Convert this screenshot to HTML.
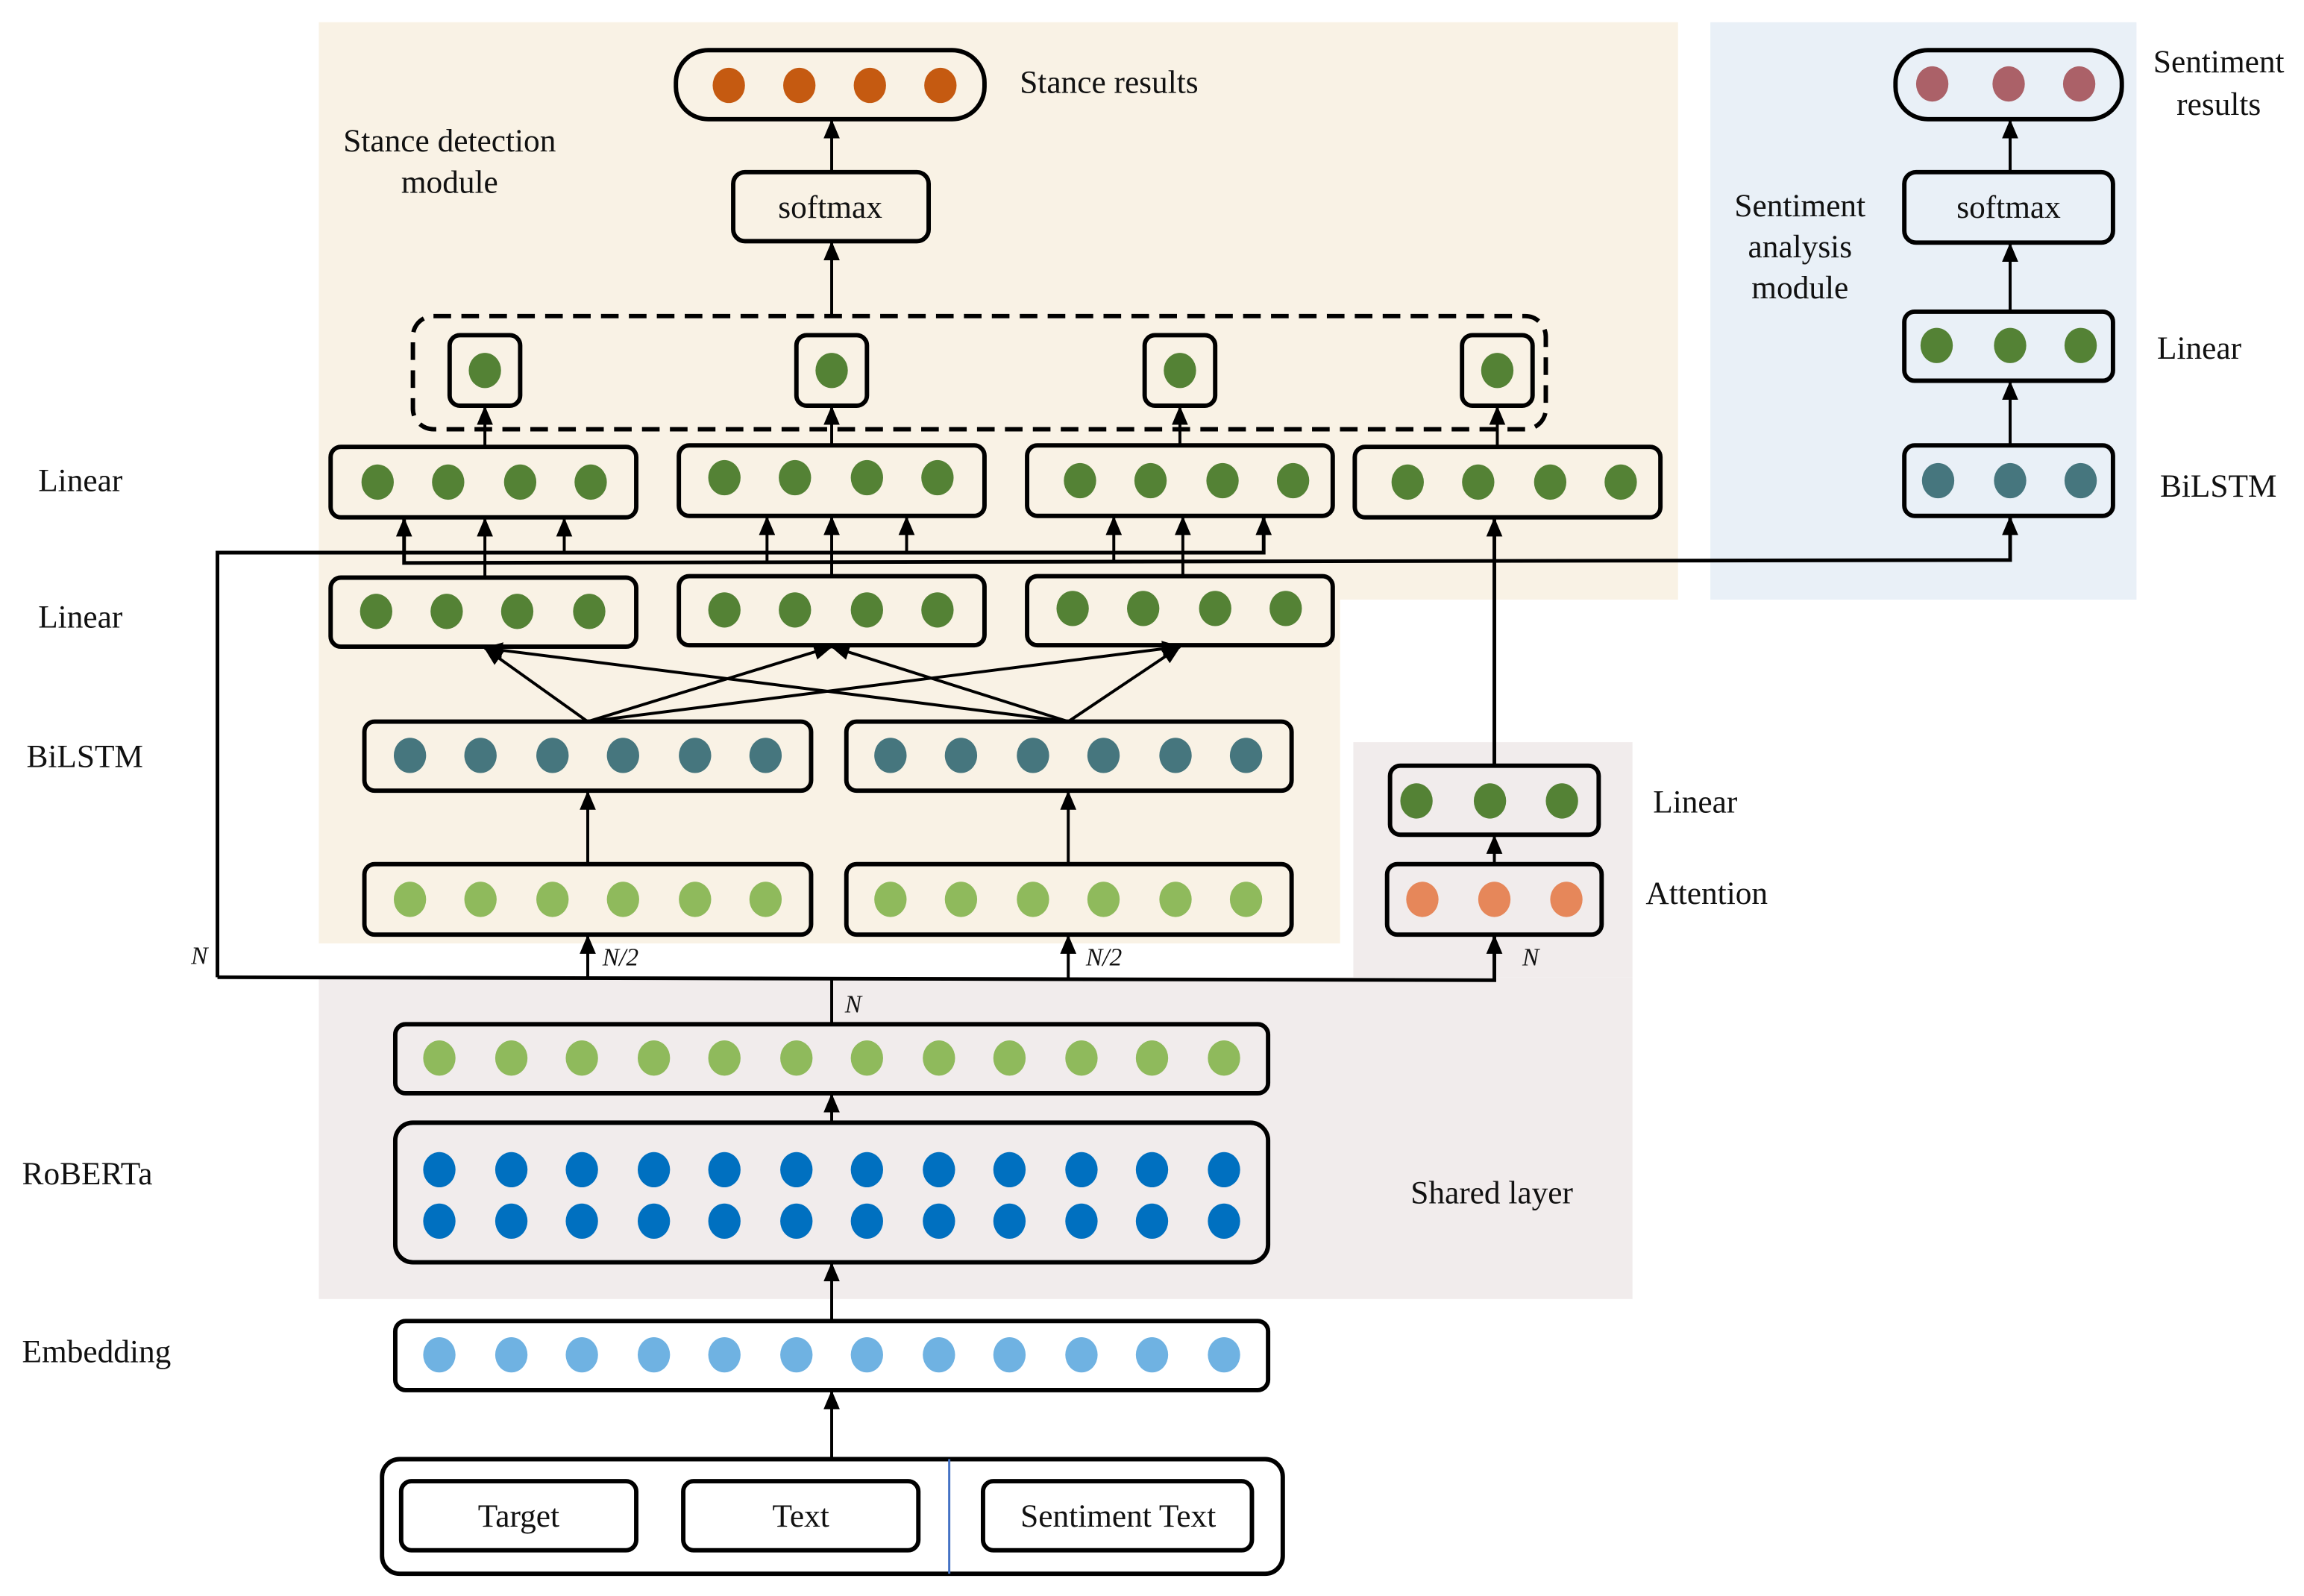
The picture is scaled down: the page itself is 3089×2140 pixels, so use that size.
<!DOCTYPE html>
<html><head><meta charset="utf-8"><style>
html,body{margin:0;padding:0;background:#fff;}
svg{display:block;}
text{font-family:"Liberation Serif",serif;font-size:22px;fill:#111;}
.i{font-style:italic;font-size:17px;}
</style></head><body>
<svg width="3089" height="2140" viewBox="0 0 1568 1086" xmlns="http://www.w3.org/2000/svg">
<defs>
<marker id="a" markerUnits="userSpaceOnUse" markerWidth="13" markerHeight="11" refX="12" refY="5.5" orient="auto-start-reverse" viewBox="0 0 13 11">
<path d="M0,0 L13,5.5 L0,11 Z" fill="#000"/></marker>
</defs>
<rect x="217" y="15" width="925" height="393" fill="#f9f2e5"/>
<rect x="217" y="408" width="695" height="234" fill="#f9f2e5"/>
<rect x="1164" y="15" width="290" height="393" fill="#e9f0f7"/>
<rect x="217" y="665" width="894" height="219" fill="#f1ecec"/>
<rect x="921" y="505" width="190" height="160" fill="#f1ecec"/>

<g fill="none" stroke="#000" stroke-width="3">
<rect x="460" y="34" width="210" height="47" rx="22"/>
<rect x="499" y="117" width="133" height="47" rx="8"/>
<rect x="281" y="215" width="771" height="77" rx="14" stroke-dasharray="12,7"/>
<rect x="306" y="228" width="48" height="48" rx="7"/>
<rect x="542" y="228" width="48" height="48" rx="7"/>
<rect x="779" y="228" width="48" height="48" rx="7"/>
<rect x="995" y="228" width="48" height="48" rx="7"/>
<rect x="225" y="304" width="208" height="48" rx="7"/>
<rect x="462" y="303" width="208" height="48" rx="7"/>
<rect x="699" y="303" width="208" height="48" rx="7"/>
<rect x="922" y="304" width="208" height="48" rx="7"/>
<rect x="225" y="393" width="208" height="47" rx="7"/>
<rect x="462" y="392" width="208" height="47" rx="7"/>
<rect x="699" y="392" width="208" height="47" rx="7"/>
<rect x="248" y="491" width="304" height="47" rx="7"/>
<rect x="576" y="491" width="303" height="47" rx="7"/>
<rect x="248" y="588" width="304" height="48" rx="7"/>
<rect x="576" y="588" width="303" height="48" rx="7"/>
<rect x="946" y="521" width="142" height="47" rx="7"/>
<rect x="944" y="588" width="146" height="48" rx="7"/>
<rect x="269" y="697" width="594" height="47" rx="7"/>
<rect x="269" y="764" width="594" height="95" rx="12"/>
<rect x="269" y="899" width="594" height="47" rx="7"/>
<rect x="260" y="993" width="613" height="78" rx="12"/>
<rect x="273" y="1008" width="160" height="47" rx="7"/>
<rect x="465" y="1008" width="160" height="47" rx="7"/>
<rect x="669" y="1008" width="183" height="47" rx="7"/>
<rect x="1290" y="34" width="154" height="47" rx="22"/>
<rect x="1296" y="117" width="142" height="48" rx="8"/>
<rect x="1296" y="212" width="142" height="47" rx="7"/>
<rect x="1296" y="303" width="142" height="48" rx="7"/>
</g>
<line x1="646" y1="993" x2="646" y2="1071" stroke="#4472c4" stroke-width="1.5"/>

<g fill="none" stroke="#000" stroke-width="2">
<line x1="566" y1="117" x2="566" y2="82" marker-end="url(#a)"/>
<line x1="566" y1="215" x2="566" y2="165" marker-end="url(#a)"/>
<line x1="330" y1="304" x2="330" y2="277" marker-end="url(#a)"/>
<line x1="566" y1="303" x2="566" y2="277" marker-end="url(#a)"/>
<line x1="803" y1="303" x2="803" y2="277" marker-end="url(#a)"/>
<line x1="1019" y1="304" x2="1019" y2="277" marker-end="url(#a)"/>
<line x1="330" y1="393" x2="330" y2="353" marker-end="url(#a)"/>
<line x1="566" y1="392" x2="566" y2="352" marker-end="url(#a)"/>
<line x1="805" y1="392" x2="805" y2="352" marker-end="url(#a)"/>
<polyline points="148,665 148,376 860,376 860,352" marker-end="url(#a)" stroke-width="2.5"/>
<line x1="384" y1="376" x2="384" y2="353" marker-end="url(#a)"/>
<line x1="617" y1="376" x2="617" y2="352" marker-end="url(#a)"/>
<polyline points="275,353 275,383 1368,381 1368,352" stroke-width="2.5" marker-end="url(#a)" marker-start="url(#a)"/>
<line x1="522" y1="383" x2="522" y2="352" marker-end="url(#a)"/>
<line x1="758" y1="383" x2="758" y2="352" marker-end="url(#a)"/>
<line x1="400" y1="491" x2="330" y2="441" marker-end="url(#a)"/>
<line x1="400" y1="491" x2="566" y2="440" marker-end="url(#a)"/>
<line x1="400" y1="491" x2="803" y2="440" marker-end="url(#a)"/>
<line x1="727" y1="491" x2="330" y2="441" marker-end="url(#a)"/>
<line x1="727" y1="491" x2="566" y2="440" marker-end="url(#a)"/>
<line x1="727" y1="491" x2="803" y2="440" marker-end="url(#a)"/>
<line x1="400" y1="588" x2="400" y2="539" marker-end="url(#a)"/>
<line x1="727" y1="588" x2="727" y2="539" marker-end="url(#a)"/>
<polyline points="148,665 1017,667 1017,637" stroke-width="2.5" marker-end="url(#a)"/>
<line x1="400" y1="665" x2="400" y2="637" marker-end="url(#a)"/>
<line x1="727" y1="666" x2="727" y2="637" marker-end="url(#a)"/>
<line x1="566" y1="697" x2="566" y2="666"/>
<line x1="1017" y1="588" x2="1017" y2="569" marker-end="url(#a)"/>
<line x1="1017" y1="521" x2="1017" y2="353" marker-end="url(#a)" stroke-width="2.5"/>
<line x1="566" y1="764" x2="566" y2="745" marker-end="url(#a)"/>
<line x1="566" y1="899" x2="566" y2="860" marker-end="url(#a)"/>
<line x1="566" y1="993" x2="566" y2="947" marker-end="url(#a)"/>
<line x1="1368" y1="303" x2="1368" y2="260" marker-end="url(#a)"/>
<line x1="1368" y1="212" x2="1368" y2="166" marker-end="url(#a)"/>
<line x1="1368" y1="117" x2="1368" y2="82" marker-end="url(#a)"/>
</g>

<g fill="#c55a11"><ellipse cx="496" cy="58" rx="11" ry="12"/><ellipse cx="544" cy="58" rx="11" ry="12"/><ellipse cx="592" cy="58" rx="11" ry="12"/><ellipse cx="640" cy="58" rx="11" ry="12"/></g>
<g fill="#ab6168"><ellipse cx="1315" cy="57" rx="11" ry="12"/><ellipse cx="1367" cy="57" rx="11" ry="12"/><ellipse cx="1415" cy="57" rx="11" ry="12"/></g>
<g fill="#548235">
<ellipse cx="330" cy="252" rx="11" ry="12"/><ellipse cx="566" cy="252" rx="11" ry="12"/><ellipse cx="803" cy="252" rx="11" ry="12"/><ellipse cx="1019" cy="252" rx="11" ry="12"/>
<ellipse cx="257" cy="328" rx="11" ry="12"/><ellipse cx="305" cy="328" rx="11" ry="12"/><ellipse cx="354" cy="328" rx="11" ry="12"/><ellipse cx="402" cy="328" rx="11" ry="12"/>
<ellipse cx="493" cy="325" rx="11" ry="12"/><ellipse cx="541" cy="325" rx="11" ry="12"/><ellipse cx="590" cy="325" rx="11" ry="12"/><ellipse cx="638" cy="325" rx="11" ry="12"/>
<ellipse cx="735" cy="327" rx="11" ry="12"/><ellipse cx="783" cy="327" rx="11" ry="12"/><ellipse cx="832" cy="327" rx="11" ry="12"/><ellipse cx="880" cy="327" rx="11" ry="12"/>
<ellipse cx="958" cy="328" rx="11" ry="12"/><ellipse cx="1006" cy="328" rx="11" ry="12"/><ellipse cx="1055" cy="328" rx="11" ry="12"/><ellipse cx="1103" cy="328" rx="11" ry="12"/>
<ellipse cx="256" cy="416" rx="11" ry="12"/><ellipse cx="304" cy="416" rx="11" ry="12"/><ellipse cx="352" cy="416" rx="11" ry="12"/><ellipse cx="401" cy="416" rx="11" ry="12"/>
<ellipse cx="493" cy="415" rx="11" ry="12"/><ellipse cx="541" cy="415" rx="11" ry="12"/><ellipse cx="590" cy="415" rx="11" ry="12"/><ellipse cx="638" cy="415" rx="11" ry="12"/>
<ellipse cx="730" cy="414" rx="11" ry="12"/><ellipse cx="778" cy="414" rx="11" ry="12"/><ellipse cx="827" cy="414" rx="11" ry="12"/><ellipse cx="875" cy="414" rx="11" ry="12"/>
<ellipse cx="964" cy="545" rx="11" ry="12"/><ellipse cx="1014" cy="545" rx="11" ry="12"/><ellipse cx="1063" cy="545" rx="11" ry="12"/>
<ellipse cx="1318" cy="235" rx="11" ry="12"/><ellipse cx="1368" cy="235" rx="11" ry="12"/><ellipse cx="1416" cy="235" rx="11" ry="12"/>
</g>
<g fill="#46767e">
<ellipse cx="279" cy="514" rx="11" ry="12"/><ellipse cx="327" cy="514" rx="11" ry="12"/><ellipse cx="376" cy="514" rx="11" ry="12"/><ellipse cx="424" cy="514" rx="11" ry="12"/><ellipse cx="473" cy="514" rx="11" ry="12"/><ellipse cx="521" cy="514" rx="11" ry="12"/>
<ellipse cx="606" cy="514" rx="11" ry="12"/><ellipse cx="654" cy="514" rx="11" ry="12"/><ellipse cx="703" cy="514" rx="11" ry="12"/><ellipse cx="751" cy="514" rx="11" ry="12"/><ellipse cx="800" cy="514" rx="11" ry="12"/><ellipse cx="848" cy="514" rx="11" ry="12"/>
<ellipse cx="1319" cy="327" rx="11" ry="12"/><ellipse cx="1368" cy="327" rx="11" ry="12"/><ellipse cx="1416" cy="327" rx="11" ry="12"/>
</g>
<g fill="#8fba5c">
<ellipse cx="279" cy="612" rx="11" ry="12"/><ellipse cx="327" cy="612" rx="11" ry="12"/><ellipse cx="376" cy="612" rx="11" ry="12"/><ellipse cx="424" cy="612" rx="11" ry="12"/><ellipse cx="473" cy="612" rx="11" ry="12"/><ellipse cx="521" cy="612" rx="11" ry="12"/>
<ellipse cx="606" cy="612" rx="11" ry="12"/><ellipse cx="654" cy="612" rx="11" ry="12"/><ellipse cx="703" cy="612" rx="11" ry="12"/><ellipse cx="751" cy="612" rx="11" ry="12"/><ellipse cx="800" cy="612" rx="11" ry="12"/><ellipse cx="848" cy="612" rx="11" ry="12"/>
<ellipse cx="299" cy="720" rx="11" ry="12"/><ellipse cx="348" cy="720" rx="11" ry="12"/><ellipse cx="396" cy="720" rx="11" ry="12"/><ellipse cx="445" cy="720" rx="11" ry="12"/><ellipse cx="493" cy="720" rx="11" ry="12"/><ellipse cx="542" cy="720" rx="11" ry="12"/><ellipse cx="590" cy="720" rx="11" ry="12"/><ellipse cx="639" cy="720" rx="11" ry="12"/><ellipse cx="687" cy="720" rx="11" ry="12"/><ellipse cx="736" cy="720" rx="11" ry="12"/><ellipse cx="784" cy="720" rx="11" ry="12"/><ellipse cx="833" cy="720" rx="11" ry="12"/>
</g>
<g fill="#e6875a"><ellipse cx="968" cy="612" rx="11" ry="12"/><ellipse cx="1017" cy="612" rx="11" ry="12"/><ellipse cx="1066" cy="612" rx="11" ry="12"/></g>
<g fill="#0070c0">
<ellipse cx="299" cy="796" rx="11" ry="12"/><ellipse cx="348" cy="796" rx="11" ry="12"/><ellipse cx="396" cy="796" rx="11" ry="12"/><ellipse cx="445" cy="796" rx="11" ry="12"/><ellipse cx="493" cy="796" rx="11" ry="12"/><ellipse cx="542" cy="796" rx="11" ry="12"/><ellipse cx="590" cy="796" rx="11" ry="12"/><ellipse cx="639" cy="796" rx="11" ry="12"/><ellipse cx="687" cy="796" rx="11" ry="12"/><ellipse cx="736" cy="796" rx="11" ry="12"/><ellipse cx="784" cy="796" rx="11" ry="12"/><ellipse cx="833" cy="796" rx="11" ry="12"/>
<ellipse cx="299" cy="831" rx="11" ry="12"/><ellipse cx="348" cy="831" rx="11" ry="12"/><ellipse cx="396" cy="831" rx="11" ry="12"/><ellipse cx="445" cy="831" rx="11" ry="12"/><ellipse cx="493" cy="831" rx="11" ry="12"/><ellipse cx="542" cy="831" rx="11" ry="12"/><ellipse cx="590" cy="831" rx="11" ry="12"/><ellipse cx="639" cy="831" rx="11" ry="12"/><ellipse cx="687" cy="831" rx="11" ry="12"/><ellipse cx="736" cy="831" rx="11" ry="12"/><ellipse cx="784" cy="831" rx="11" ry="12"/><ellipse cx="833" cy="831" rx="11" ry="12"/>
</g>
<g fill="#6fb2e2">
<ellipse cx="299" cy="922" rx="11" ry="12"/><ellipse cx="348" cy="922" rx="11" ry="12"/><ellipse cx="396" cy="922" rx="11" ry="12"/><ellipse cx="445" cy="922" rx="11" ry="12"/><ellipse cx="493" cy="922" rx="11" ry="12"/><ellipse cx="542" cy="922" rx="11" ry="12"/><ellipse cx="590" cy="922" rx="11" ry="12"/><ellipse cx="639" cy="922" rx="11" ry="12"/><ellipse cx="687" cy="922" rx="11" ry="12"/><ellipse cx="736" cy="922" rx="11" ry="12"/><ellipse cx="784" cy="922" rx="11" ry="12"/><ellipse cx="833" cy="922" rx="11" ry="12"/>
</g>

<text x="694" y="63">Stance results</text>
<text x="565" y="148" text-anchor="middle">softmax</text>
<text x="306" y="103" text-anchor="middle">Stance detection</text>
<text x="306" y="131" text-anchor="middle">module</text>
<text x="26" y="334">Linear</text>
<text x="26" y="427">Linear</text>
<text x="18" y="522">BiLSTM</text>
<text x="15" y="806">RoBERTa</text>
<text x="15" y="927">Embedding</text>
<text x="960" y="819">Shared layer</text>
<text x="1125" y="553">Linear</text>
<text x="1120" y="615">Attention</text>
<text x="1367" y="148" text-anchor="middle">softmax</text>
<text x="1225" y="147" text-anchor="middle">Sentiment</text>
<text x="1225" y="175" text-anchor="middle">analysis</text>
<text x="1225" y="203" text-anchor="middle">module</text>
<text x="1510" y="49" text-anchor="middle">Sentiment</text>
<text x="1510" y="78" text-anchor="middle">results</text>
<text x="1468" y="244">Linear</text>
<text x="1470" y="338">BiLSTM</text>
<text x="353" y="1039" text-anchor="middle">Target</text>
<text x="545" y="1039" text-anchor="middle">Text</text>
<text x="761" y="1039" text-anchor="middle">Sentiment Text</text>
<text class="i" x="130" y="656">N</text>
<text class="i" x="410" y="657">N/2</text>
<text class="i" x="739" y="657">N/2</text>
<text class="i" x="575" y="689">N</text>
<text class="i" x="1036" y="657">N</text>
</svg>
</body></html>
